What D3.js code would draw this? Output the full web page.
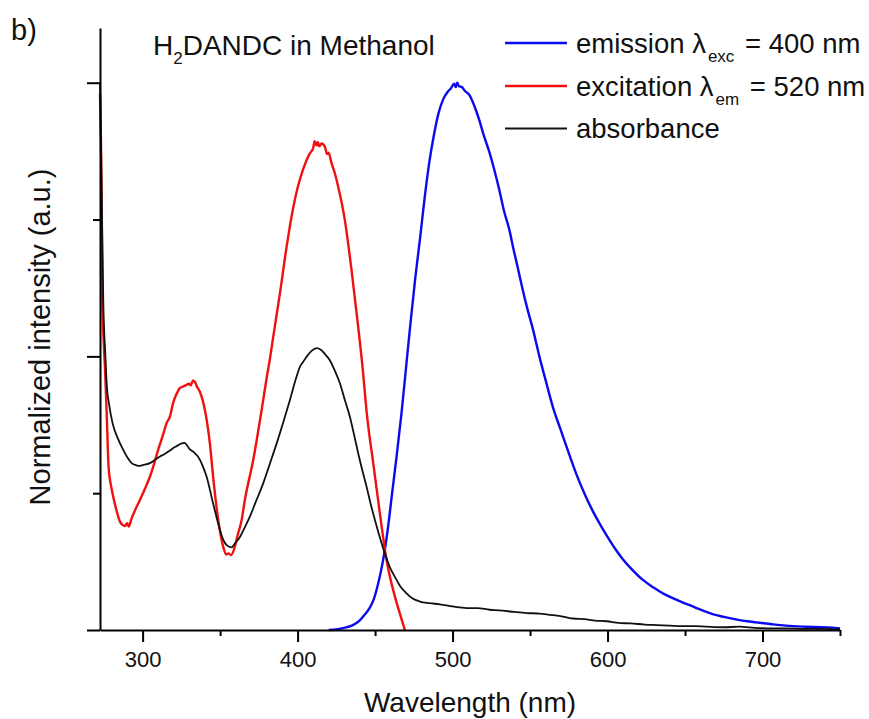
<!DOCTYPE html>
<html>
<head>
<meta charset="utf-8">
<script src="https://cdn.jsdelivr.net/npm/d3@7"></script>
<style>
  html, body { margin: 0; padding: 0; background: #fff; }
  svg { display: block; font-family: "Liberation Sans", Arial, sans-serif; }
</style>
</head>
<body>
<svg id="chart" width="869" height="719"></svg>
<script>
// Emission spectrum (excitation at 400 nm)
const emissionNm = [420, 425, 430, 435, 440, 443, 446, 449, 452, 455, 458, 461, 464, 467, 470, 473, 476, 479, 482, 485, 488, 491, 494, 497, 499, 501, 502, 503, 504, 506, 508, 511, 514, 517, 520, 524, 527, 530, 533, 537, 539, 542, 545, 548, 552, 556, 560, 565, 570, 575, 580, 585, 590, 595, 600, 605, 610, 616, 623, 630, 635, 640, 648, 656, 662, 669, 675, 682, 690, 696, 705, 715, 728, 738, 745, 750];
const emissionVal = [0.000, 0.001, 0.004, 0.008, 0.017, 0.027, 0.038, 0.055, 0.085, 0.125, 0.180, 0.250, 0.320, 0.395, 0.480, 0.565, 0.645, 0.715, 0.790, 0.855, 0.905, 0.945, 0.970, 0.984, 0.990, 0.998, 0.992, 1.000, 0.994, 0.992, 0.985, 0.977, 0.958, 0.934, 0.905, 0.871, 0.840, 0.806, 0.768, 0.727, 0.700, 0.663, 0.625, 0.590, 0.548, 0.500, 0.457, 0.405, 0.364, 0.323, 0.284, 0.250, 0.220, 0.194, 0.170, 0.148, 0.129, 0.110, 0.091, 0.077, 0.068, 0.061, 0.051, 0.042, 0.035, 0.028, 0.024, 0.020, 0.016, 0.014, 0.011, 0.008, 0.006, 0.005, 0.004, 0.003];

// Excitation spectrum (emission monitored at 520 nm)
const excitationNm = [272.5, 273.5, 274.0, 275.0, 275.7, 277.0, 278.0, 280.0, 281.0, 283.0, 285.4, 287.0, 288.6, 290.0, 291.0, 292.9, 295.0, 298.3, 301.0, 304.7, 307.0, 310.0, 313.0, 315.5, 317.6, 319.7, 322.0, 324.0, 326.2, 328.4, 330.0, 331.0, 332.6, 334.0, 335.0, 337.0, 340.2, 343.4, 345.5, 348.8, 352.0, 354.0, 355.2, 357.0, 359.5, 361.0, 363.9, 366.0, 371.4, 376.8, 380.0, 382.0, 384.3, 388.6, 392.9, 397.2, 400.0, 403.6, 407.9, 410.0, 411.0, 412.3, 413.0, 414.0, 415.5, 417.6, 419.0, 420.0, 421.9, 424.0, 426.2, 430.5, 434.8, 439.1, 442.3, 444.5, 448.8, 453.1, 457.4, 462.8, 466.0, 469.2];
const excitationVal = [0.980, 0.800, 0.610, 0.520, 0.481, 0.380, 0.300, 0.258, 0.244, 0.220, 0.198, 0.192, 0.190, 0.195, 0.189, 0.204, 0.218, 0.238, 0.255, 0.280, 0.300, 0.329, 0.355, 0.378, 0.390, 0.415, 0.432, 0.442, 0.445, 0.448, 0.450, 0.447, 0.456, 0.452, 0.445, 0.435, 0.402, 0.341, 0.280, 0.201, 0.152, 0.138, 0.140, 0.137, 0.152, 0.170, 0.201, 0.238, 0.311, 0.402, 0.460, 0.493, 0.536, 0.615, 0.700, 0.772, 0.808, 0.842, 0.871, 0.880, 0.893, 0.885, 0.892, 0.884, 0.889, 0.883, 0.870, 0.872, 0.853, 0.835, 0.810, 0.749, 0.658, 0.554, 0.469, 0.400, 0.305, 0.213, 0.128, 0.061, 0.030, 0.000];

// UV-vis absorbance
const absorbanceNm = [272.5, 273.5, 274.6, 276.0, 276.8, 278.5, 280.6, 284.0, 287.5, 290.0, 292.9, 296.0, 298.3, 301.0, 304.7, 308.0, 311.2, 314.0, 317.6, 320.0, 322.0, 325.2, 327.0, 330.5, 333.0, 337.0, 339.0, 341.3, 345.5, 349.9, 352.0, 354.2, 357.4, 359.5, 362.8, 366.0, 369.2, 373.0, 377.8, 382.0, 386.5, 391.0, 395.0, 399.0, 401.5, 403.6, 406.0, 409.0, 412.3, 415.0, 418.0, 420.8, 424.0, 427.3, 430.0, 433.7, 436.5, 439.1, 442.0, 444.5, 447.0, 449.9, 453.0, 456.3, 459.5, 462.8, 466.0, 470.3, 474.0, 478.9, 485.0, 491.8, 500.0, 509.0, 516.0, 524.0, 530.0, 540.0, 548.0, 556.3, 565.0, 572.0, 577.8, 585.0, 592.0, 599.4, 607.0, 615.0, 624.0, 631.6, 640.0, 648.0, 656.0, 663.9, 675.0, 685.0, 695.0, 706.8, 715.0, 728.4, 740.0, 750.0];
const absorbanceVal = [1.000, 0.820, 0.603, 0.500, 0.451, 0.410, 0.378, 0.350, 0.329, 0.316, 0.305, 0.301, 0.300, 0.302, 0.305, 0.311, 0.317, 0.321, 0.328, 0.333, 0.336, 0.341, 0.342, 0.330, 0.325, 0.311, 0.298, 0.280, 0.231, 0.183, 0.165, 0.155, 0.151, 0.158, 0.170, 0.188, 0.207, 0.234, 0.268, 0.303, 0.341, 0.382, 0.420, 0.460, 0.481, 0.490, 0.500, 0.510, 0.515, 0.512, 0.503, 0.493, 0.474, 0.451, 0.425, 0.390, 0.356, 0.323, 0.289, 0.262, 0.232, 0.201, 0.170, 0.140, 0.115, 0.097, 0.081, 0.067, 0.058, 0.052, 0.049, 0.047, 0.043, 0.040, 0.040, 0.037, 0.036, 0.033, 0.031, 0.030, 0.027, 0.024, 0.021, 0.020, 0.017, 0.016, 0.013, 0.012, 0.010, 0.009, 0.008, 0.007, 0.007, 0.006, 0.005, 0.006, 0.004, 0.003, 0.003, 0.002, 0.002, 0.001];

// Axis ticks
const xMajorTicks = [300, 400, 500, 600, 700];
const xMinorTicks = [350, 450, 550, 650, 750];
const yMajorTicks = [0, 0.5, 1];
const yMinorTicks = [0.25, 0.75];

const series = [
  { nm: emissionNm, val: emissionVal, color: "#0a0af0", width: 2.4 },
  { nm: excitationNm, val: excitationVal, color: "#f01010", width: 2.4 },
  { nm: absorbanceNm, val: absorbanceVal, color: "#111111", width: 1.8 }
];

const svg = d3.select("#chart");
const FONT = 27.5;

const x = d3.scaleLinear().domain([272.5, 750]).range([100, 840]);
const y = d3.scaleLinear().domain([0, 1.1]).range([630, 28]);

// Curves
const line = d3.line()
  .x(d => x(d[0]))
  .y(d => y(d[1]))
  .curve(d3.curveMonotoneX);

series.forEach(s => {
  svg.append("path")
    .datum(s.nm.map((n, i) => [n, s.val[i]]))
    .attr("fill", "none")
    .attr("stroke", s.color)
    .attr("stroke-width", s.width)
    .attr("stroke-linejoin", "round")
    .attr("d", line);
});

// Axes
function styleAxis(g) {
  g.selectAll("path, line").attr("stroke", "#000").attr("stroke-width", 2);
}

const xAxisG = svg.append("g").attr("transform", "translate(0,630)");
xAxisG.call(d3.axisBottom(x).tickValues(xMajorTicks).tickSize(12).tickSizeOuter(0).tickPadding(9))
  .call(styleAxis);
xAxisG.selectAll("text").attr("font-size", 22).attr("font-family", "Liberation Sans, Arial, sans-serif").attr("fill", "#111");
svg.append("g").attr("transform", "translate(0,630)")
  .call(d3.axisBottom(x).tickValues(xMinorTicks).tickSize(6).tickFormat(""))
  .call(g => g.select(".domain").remove())
  .call(styleAxis);

svg.append("g").attr("transform", "translate(100,0)")
  .call(d3.axisLeft(y).tickValues(yMajorTicks).tickSize(13).tickSizeOuter(0).tickFormat(""))
  .call(styleAxis);
svg.append("g").attr("transform", "translate(100,0)")
  .call(d3.axisLeft(y).tickValues(yMinorTicks).tickSize(7).tickFormat(""))
  .call(g => g.select(".domain").remove())
  .call(styleAxis);

// Axis titles
svg.append("text")
  .attr("x", 470).attr("y", 712)
  .attr("text-anchor", "middle")
  .attr("font-size", 28).attr("fill", "#111")
  .text("Wavelength (nm)");

svg.append("text")
  .attr("transform", "translate(50,337) rotate(-90)")
  .attr("text-anchor", "middle")
  .attr("font-size", 29).attr("fill", "#111")
  .text("Normalized intensity (a.u.)");

// Panel letter
svg.append("text")
  .attr("x", 11).attr("y", 40)
  .attr("font-size", 29).attr("fill", "#111")
  .text("b)");

// Sample title with subscript
const title = svg.append("text")
  .attr("x", 153).attr("y", 55)
  .attr("font-size", 28).attr("fill", "#111");
title.append("tspan").text("H");
title.append("tspan").attr("font-size", 17).attr("dy", 9).text("2");
title.append("tspan").attr("dy", -9).text("DANDC in Methanol");

// Legend
const legendItems = [
  { pre: "emission \u03bb", sub: "exc", post: " = 400 nm", color: series[0].color, width: series[0].width, y: 43 },
  { pre: "excitation \u03bb", sub: "em", post: " = 520 nm", color: series[1].color, width: series[1].width, y: 86 },
  { pre: "absorbance", sub: "", post: "", color: series[2].color, width: series[2].width, y: 128.5 }
];

legendItems.forEach(d => {
  svg.append("line")
    .attr("x1", 505).attr("x2", 567)
    .attr("y1", d.y).attr("y2", d.y)
    .attr("stroke", d.color).attr("stroke-width", d.width);
  const t = svg.append("text")
    .attr("x", 576).attr("y", d.y + 9.6)
    .attr("font-size", FONT).attr("fill", "#111")
    .attr("xml:space", "preserve");
  t.append("tspan").text(d.pre);
  if (d.sub) {
    t.append("tspan").attr("font-size", 17).attr("dy", 9.5).attr("dx", 2).text(d.sub);
    t.append("tspan").attr("dy", -9.5).attr("dx", 3).text(d.post);
  }
});
</script>
</body>
</html>
